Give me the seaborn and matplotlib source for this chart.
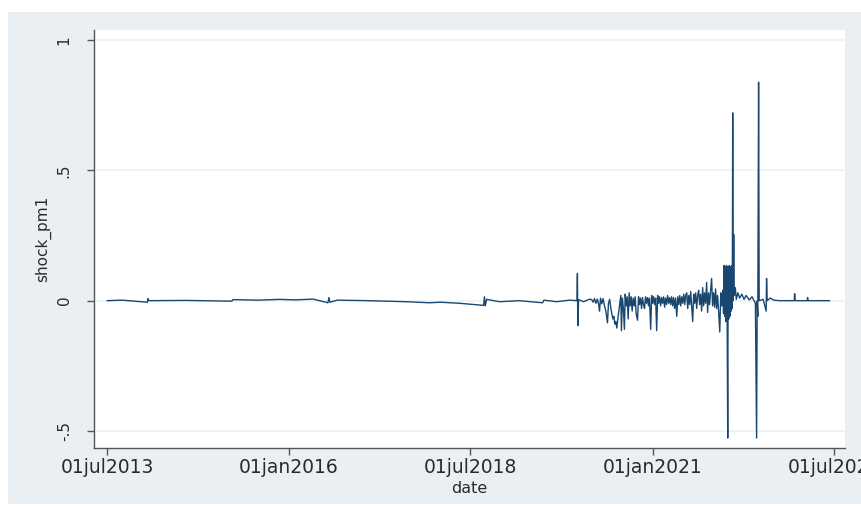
import matplotlib
matplotlib.use("Agg")
import matplotlib.pyplot as plt
from matplotlib.patches import Rectangle
import pandas as pd
import seaborn as sns

# Calm period: tiny deviations around zero
calm_points = [
    ("2013-07-01", 0.000), ("2013-09-15", 0.002), ("2014-01-20", -0.006),
    ("2014-01-23", 0.008), ("2014-01-27", 0.000), ("2014-08-01", 0.001),
    ("2015-03-20", -0.002), ("2015-03-26", 0.004), ("2015-08-01", 0.002),
    ("2015-11-16", 0.005), ("2016-02-01", 0.003), ("2016-05-01", 0.006),
    ("2016-07-15", -0.008), ("2016-07-20", 0.012), ("2016-07-25", -0.006),
    ("2016-09-01", 0.002), ("2017-02-01", 0.000), ("2017-08-13", -0.004),
    ("2017-12-06", -0.008), ("2018-02-01", -0.006), ("2018-05-07", -0.010),
    ("2018-09-05", -0.018), ("2018-09-09", 0.015), ("2018-09-13", -0.020),
    ("2018-09-20", 0.005), ("2018-11-24", -0.004), ("2019-03-01", 0.000),
    ("2019-06-28", -0.008), ("2019-07-05", 0.002), ("2019-09-06", -0.004),
    ("2019-11-10", 0.002), ("2019-12-18", 0.000), ("2019-12-20", 0.104),
    ("2019-12-22", -0.096), ("2019-12-26", 0.004), ("2020-01-20", -0.004),
    ("2020-02-20", 0.006),
]

# Turbulent period 2020-2021
turb_points = [
    ("2020-03-01", 0.004), ("2020-03-08", -0.006), ("2020-03-15", 0.008),
    ("2020-03-22", -0.010), ("2020-03-29", 0.006), ("2020-04-05", -0.015),
    ("2020-04-09", -0.040), ("2020-04-14", 0.010), ("2020-04-20", -0.012),
    ("2020-04-27", 0.008), ("2020-05-04", -0.020), ("2020-05-11", -0.040),
    ("2020-05-19", -0.085), ("2020-05-24", -0.010), ("2020-05-30", 0.005),
    ("2020-06-05", -0.030), ("2020-06-10", -0.050), ("2020-06-15", -0.070),
    ("2020-06-20", -0.060), ("2020-06-25", -0.090), ("2020-06-30", -0.080),
    ("2020-07-05", -0.105), ("2020-07-10", -0.070), ("2020-07-15", -0.040),
    ("2020-07-20", -0.010), ("2020-07-25", 0.020), ("2020-07-28", -0.115),
    ("2020-08-02", 0.010), ("2020-08-07", -0.030), ("2020-08-12", -0.110),
    ("2020-08-16", 0.025), ("2020-08-21", -0.020), ("2020-08-26", 0.015),
    ("2020-08-31", -0.070), ("2020-09-05", 0.030), ("2020-09-10", -0.020),
    ("2020-09-15", 0.015), ("2020-09-20", -0.040), ("2020-09-25", 0.010),
    ("2020-09-30", -0.020), ("2020-10-05", 0.015), ("2020-10-10", -0.050),
    ("2020-10-17", -0.075), ("2020-10-22", 0.015), ("2020-10-27", -0.015),
    ("2020-11-01", 0.010), ("2020-11-06", -0.030), ("2020-11-11", 0.012),
    ("2020-11-16", -0.015), ("2020-11-21", -0.030), ("2020-11-26", 0.015),
    ("2020-12-01", -0.010), ("2020-12-06", 0.012), ("2020-12-11", -0.020),
    ("2020-12-16", 0.010), ("2020-12-22", -0.110), ("2020-12-27", 0.020),
    ("2021-01-01", -0.010), ("2021-01-06", 0.015), ("2021-01-11", -0.015),
    ("2021-01-16", 0.010), ("2021-01-21", -0.115), ("2021-01-26", 0.020),
    ("2021-01-31", -0.010), ("2021-02-05", 0.015), ("2021-02-10", -0.020),
    ("2021-02-15", 0.012), ("2021-02-20", -0.010), ("2021-02-25", 0.015),
    ("2021-03-02", -0.025), ("2021-03-07", 0.010), ("2021-03-12", -0.015),
    ("2021-03-17", 0.020), ("2021-03-22", -0.010), ("2021-03-27", 0.012),
    ("2021-04-01", -0.015), ("2021-04-06", 0.015), ("2021-04-11", -0.020),
    ("2021-04-16", 0.012), ("2021-04-21", -0.030), ("2021-04-26", 0.010),
    ("2021-05-02", -0.060), ("2021-05-07", 0.015), ("2021-05-12", -0.015),
    ("2021-05-17", 0.020), ("2021-05-22", -0.020), ("2021-05-27", 0.015),
    ("2021-06-01", -0.010), ("2021-06-06", 0.025), ("2021-06-11", -0.015),
    ("2021-06-16", 0.020), ("2021-06-21", 0.030), ("2021-06-26", -0.030),
    ("2021-07-01", 0.020), ("2021-07-06", -0.015), ("2021-07-11", 0.035),
    ("2021-07-16", -0.020), ("2021-07-21", -0.080), ("2021-07-26", 0.025),
    ("2021-07-31", -0.010), ("2021-08-05", 0.030), ("2021-08-10", -0.030),
    ("2021-08-15", 0.020), ("2021-08-20", 0.040), ("2021-08-25", -0.015),
    ("2021-08-30", 0.025), ("2021-09-04", -0.040), ("2021-09-09", 0.050),
    ("2021-09-14", -0.020), ("2021-09-19", 0.030), ("2021-09-24", -0.010),
    ("2021-09-29", 0.070), ("2021-10-04", -0.045), ("2021-10-09", 0.030),
    ("2021-10-14", -0.015), ("2021-10-19", 0.040), ("2021-10-24", 0.085),
    ("2021-10-29", -0.020), ("2021-11-03", 0.030), ("2021-11-08", -0.025),
    ("2021-11-13", 0.045), ("2021-11-18", -0.030), ("2021-11-23", 0.020),
    ("2021-11-28", -0.040), ("2021-12-04", -0.120), ("2021-12-09", 0.030),
    ("2021-12-14", -0.020), ("2021-12-19", 0.040), ("2021-12-23", -0.050),
]

# Large shocks in early and mid 2022
spike_points = [
    ("2021-12-26", 0.135), ("2021-12-29", -0.060), ("2022-01-01", 0.130),
    ("2022-01-04", -0.080), ("2022-01-07", 0.135), ("2022-01-10", -0.050),
    ("2022-01-13", -0.527), ("2022-01-15", 0.130), ("2022-01-18", -0.070),
    ("2022-01-21", 0.135), ("2022-01-24", -0.060), ("2022-01-27", 0.130),
    ("2022-01-30", -0.040), ("2022-02-02", 0.135), ("2022-02-05", -0.030),
    ("2022-02-07", 0.720), ("2022-02-09", 0.000), ("2022-02-12", 0.254),
    ("2022-02-15", 0.020), ("2022-02-20", 0.050), ("2022-02-25", 0.005),
    ("2022-03-05", 0.030), ("2022-03-14", 0.010), ("2022-03-25", 0.025),
    ("2022-04-05", 0.005), ("2022-04-15", 0.020), ("2022-05-01", 0.003),
    ("2022-05-15", 0.015), ("2022-06-01", -0.010), ("2022-06-07", -0.527),
    ("2022-06-10", 0.000), ("2022-06-13", -0.060), ("2022-06-17", 0.838),
    ("2022-06-20", 0.000),
]

# Quiet tail
tail_points = [
    ("2022-07-10", 0.005), ("2022-07-25", -0.040), ("2022-07-27", 0.085),
    ("2022-07-30", 0.000), ("2022-08-15", 0.010), ("2022-09-01", 0.002),
    ("2022-10-01", 0.000), ("2022-12-13", 0.000), ("2022-12-15", 0.027),
    ("2022-12-18", 0.000), ("2023-02-16", 0.000), ("2023-02-18", 0.012),
    ("2023-02-21", 0.000), ("2023-06-09", 0.000),
]

tick_dates = ["2013-07-01", "2016-01-01", "2018-07-01", "2021-01-01", "2023-07-01"]
tick_labels = ["01jul2013", "01jan2016", "01jul2018", "01jan2021", "01jul2023"]
y_ticks = [-0.5, 0, 0.5, 1]
y_tick_labels = ["-.5", "0", ".5", "1"]

all_points = calm_points + turb_points + spike_points + tail_points
df = pd.DataFrame(all_points, columns=["date", "shock_pm1"])
df["date"] = pd.to_datetime(df["date"])

sns.set_theme(style="white")
plt.rcParams["font.family"] = ["DejaVu Sans"]

W, H = 861, 508
fig = plt.figure(figsize=(W / 100, H / 100), dpi=100)
fig.patch.set_facecolor("white")
fig.patches.append(Rectangle((8 / W, 4 / H), (W - 8) / W, (504 - 12) / H,
                             transform=fig.transFigure, facecolor="#e9eff2",
                             edgecolor="none", zorder=-5))

ax = fig.add_axes([94 / W, (H - 448) / H, (845 - 94) / W, (448 - 30) / H])
ax.set_facecolor("white")

sns.lineplot(data=df, x="date", y="shock_pm1", ax=ax, estimator=None,
             color="#1a476f", linewidth=1.0)

ax.set_xlim(pd.Timestamp("2013-04-27"), pd.Timestamp("2023-08-25"))
ax.set_ylim(-0.565, 1.038)

ax.set_xticks(pd.to_datetime(tick_dates))
ax.set_xticklabels(tick_labels, fontsize=13.5, color="#2a2a2a")
ax.set_yticks(y_ticks)
ax.set_yticklabels(y_tick_labels, fontsize=11, color="#2a2a2a",
                   rotation=90, va="center")

ax.yaxis.grid(True, color="#eaf2f3", linewidth=1.2)
ax.xaxis.grid(False)
ax.set_axisbelow(True)

for side in ("top", "right"):
    ax.spines[side].set_visible(False)
for side in ("left", "bottom"):
    ax.spines[side].set_color("#555555")
    ax.spines[side].set_linewidth(1.0)

ax.tick_params(axis="both", which="major", direction="out", length=5,
               width=1.0, color="#555555", left=True, bottom=True)
ax.tick_params(axis="y", pad=11)
ax.tick_params(axis="x", pad=2)

ax.set_xlabel("date", fontsize=11.5, color="#2a2a2a", labelpad=3)
ax.set_ylabel("shock_pm1", fontsize=11, color="#2a2a2a", labelpad=4)

fig.savefig("out.png", dpi=100, facecolor=fig.get_facecolor())
